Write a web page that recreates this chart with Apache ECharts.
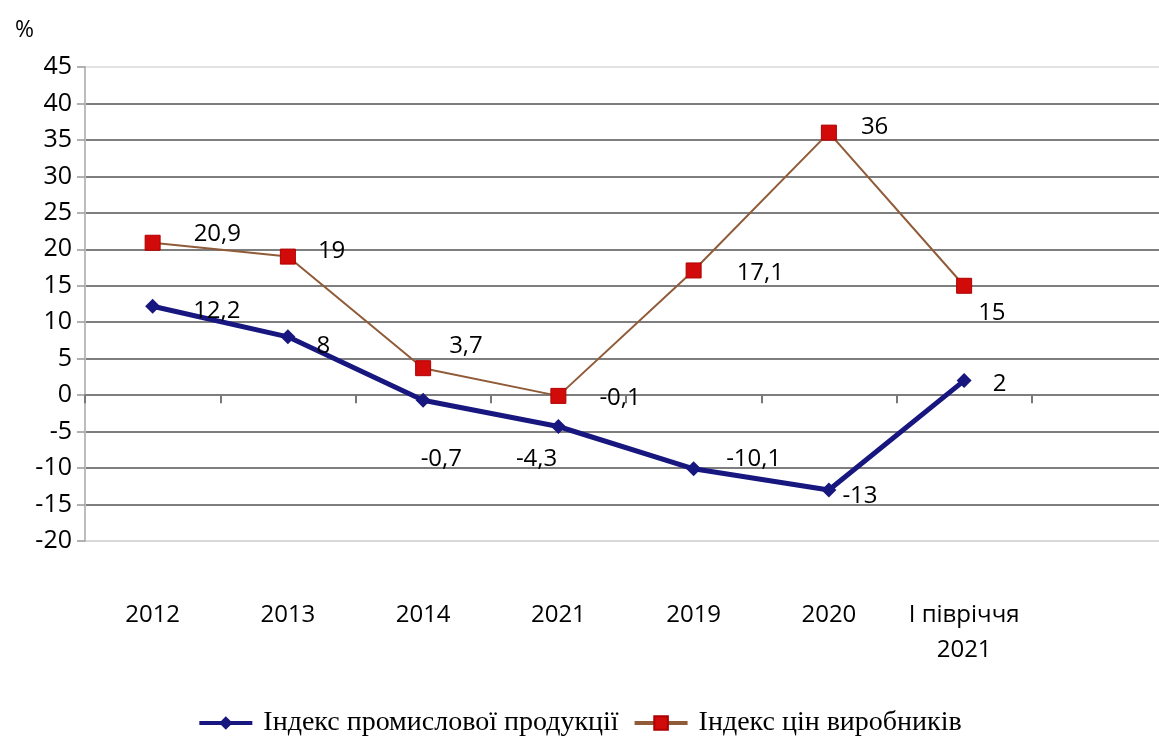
<!DOCTYPE html>
<html>
<head>
<meta charset="utf-8">
<title>Індекси</title>
<script src="https://cdn.jsdelivr.net/npm/echarts@6.0.0/dist/echarts.min.js"></script>
<style>
  html, body { margin: 0; padding: 0; background: #fff; }
  #chart { width: 1159px; height: 740px; }
</style>
</head>
<body>
<div id="chart"></div>
<script>
// categories (the last one is empty, the plot runs past the right edge)
var categories = ['2012', '2013', '2014', '2021', '2019', '2020', 'І півріччя\n2021', ''];

var industryName = 'Індекс промислової продукції';
var industryValues = [12.2, 8, -0.7, -4.3, -10.1, -13, 2];

var pricesName = 'Індекс цін виробників';
var pricesValues = [20.9, 19, 3.7, -0.1, 17.1, 36, 15];

// label shifts (style only)
var industryShift = [[28, 5], [16, 9], [-15, 59], [-55, 33], [20, -10], [1, 6], [16, 4]];
var pricesShift = [[28, -9], [17, -5], [13, -22], [28, 2], [30, 3], [19, -5], [1, 27]];

function withLabels(values, shifts) {
  return values.map(function (v, i) {
    return { value: v, label: { offset: shifts[i] } };
  });
}

function comma(p) {
  return String(p.value).replace('.', ',');
}

var gridColor = '#7e7e7e';
var splitColors = ['#d8d8d8'];
for (var k = 0; k < 12; k++) splitColors.push(gridColor);
splitColors.push('#e2e2e2');

var labelFont = { color: '#000', fontFamily: 'Open Sans', fontSize: 24 };

var chart = echarts.init(document.getElementById('chart'));

var option = {
  animation: false,
  backgroundColor: '#fff',
  title: {
    text: '%',
    left: 10,
    top: 14,
    textStyle: { color: '#000', fontFamily: 'Open Sans', fontSize: 23, fontWeight: 'normal' }
  },
  grid: {
    left: 85,
    top: 67,
    width: 1082,
    height: 474,
    containLabel: false,
    outerBoundsMode: 'none'
  },
  legend: {
    top: 704,
    left: 'center',
    itemWidth: 53,
    itemHeight: 17,
    itemGap: 14,
    textStyle: { color: '#000', fontFamily: 'Liberation Serif', fontSize: 28, padding: [0, 0, 0, 6] },
    data: [
      { name: industryName, lineStyle: { width: 4 } },
      { name: pricesName, lineStyle: { width: 4 } }
    ]
  },
  xAxis: [
    {
      type: 'category',
      data: categories,
      boundaryGap: true,
      position: 'bottom',
      axisLine: { show: false, onZero: false },
      axisTick: { show: false },
      axisLabel: {
        interval: 0,
        margin: 57,
        color: '#000',
        fontFamily: 'Open Sans',
        fontSize: 24,
        lineHeight: 35
      },
      splitLine: { show: false }
    },
    {
      type: 'category',
      data: categories,
      boundaryGap: true,
      position: 'bottom',
      axisLine: { show: true, onZero: true, onZeroAxisIndex: 0, lineStyle: { color: gridColor, width: 2 } },
      axisTick: { show: true, length: 8, lineStyle: { color: '#777', width: 2 } },
      axisLabel: { show: false },
      splitLine: { show: false }
    }
  ],
  yAxis: {
    type: 'value',
    min: -20,
    max: 45,
    interval: 5,
    axisLine: { show: true, lineStyle: { color: '#bdbdbd', width: 2 } },
    axisTick: { show: true, length: 8, lineStyle: { color: '#999', width: 1.5 } },
    axisLabel: { margin: 13, color: '#000', fontFamily: 'Open Sans', fontSize: 25 },
    splitLine: { show: true, lineStyle: { color: splitColors, width: 2 } }
  },
  series: [
    {
      name: industryName,
      type: 'line',
      xAxisIndex: 0,
      data: withLabels(industryValues, industryShift),
      symbol: 'diamond',
      symbolSize: 15,
      showAllSymbol: true,
      z: 4,
      lineStyle: { color: '#17177f', width: 5 },
      itemStyle: { color: '#17177f' },
      label: Object.assign({ show: true, position: 'right', formatter: comma }, labelFont)
    },
    {
      name: pricesName,
      type: 'line',
      xAxisIndex: 0,
      data: withLabels(pricesValues, pricesShift),
      symbol: 'rect',
      symbolSize: 15,
      showAllSymbol: true,
      z: 3,
      lineStyle: { color: '#8f5b38', width: 2 },
      itemStyle: { color: '#d10a0a', borderColor: '#b00000', borderWidth: 1 },
      label: Object.assign({ show: true, position: 'right', formatter: comma }, labelFont)
    }
  ]
};

chart.setOption(option);
</script>
</body>
</html>
